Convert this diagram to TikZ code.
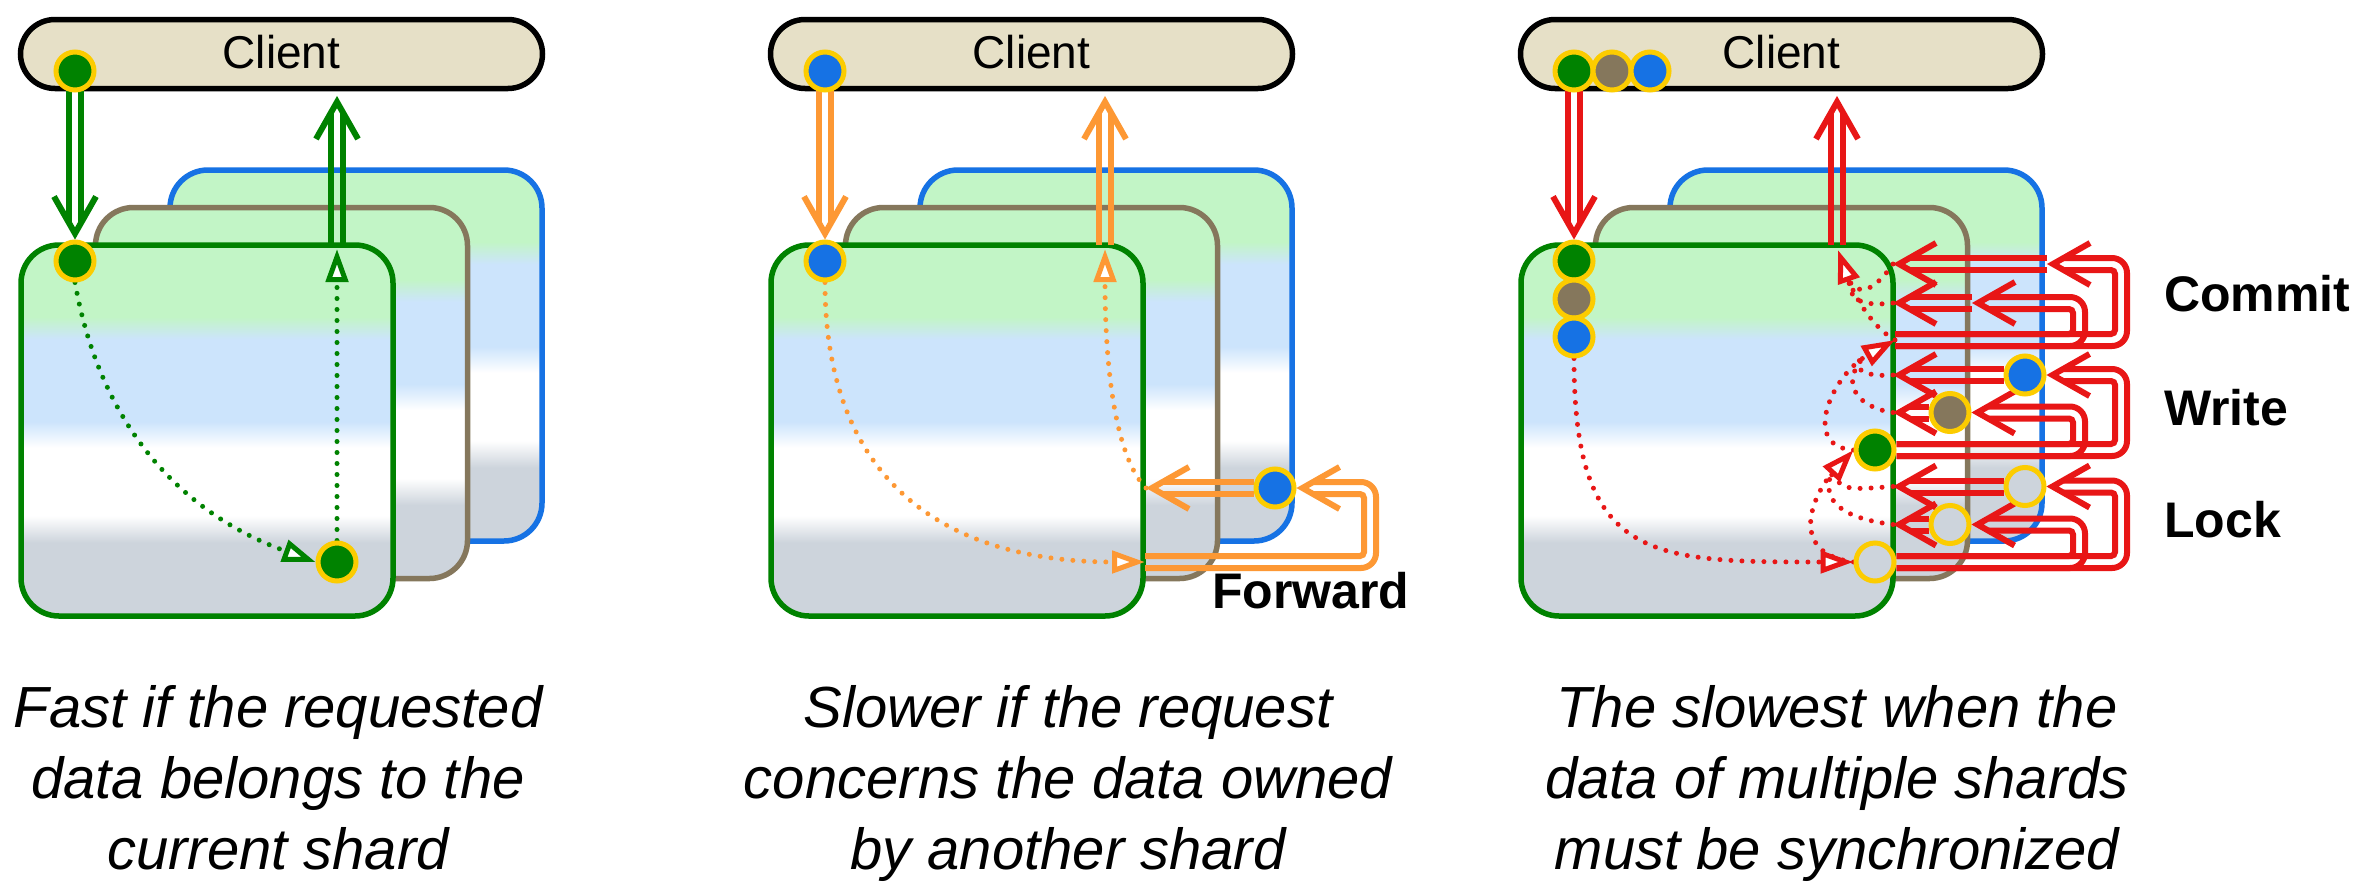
\documentclass[tikz,border=0pt]{standalone}
\usepackage{fontspec}
\setmainfont{Liberation Sans}
\usetikzlibrary{arrows.meta,calc}

\definecolor{cgreen}{RGB}{0,130,0}
\definecolor{corange}{RGB}{253,152,52}
\definecolor{cred}{RGB}{232,22,22}
\definecolor{cblue}{RGB}{22,114,228}
\definecolor{cbrown}{RGB}{133,119,92}
\definecolor{cyellow}{RGB}{252,204,0}
\definecolor{sgreen}{RGB}{194,245,198}
\definecolor{sblue}{RGB}{204,228,252}
\definecolor{sgray}{RGB}{205,212,220}
\definecolor{cbeige}{RGB}{230,224,199}

% banded fill of a shard: grey bottom, white, blue, green top
\pgfdeclareverticalshading{shardshade}{100bp}{color(0bp)=(sgray); color(34.9bp)=(sgray); color(38.5bp)=(white); color(47.7bp)=(white); color(51.2bp)=(sblue); color(62.3bp)=(sblue); color(65.3bp)=(sgreen); color(100bp)=(sgreen)}

\pgfdeclarelayer{shardlayer}
\pgfdeclarelayer{linklayer}
\pgfsetlayers{shardlayer,linklayer,main}

\tikzset{
  shard/.style={shade, shading=shardshade, line width=5.5pt, rounded corners=38pt,
    minimum width=372pt, minimum height=371pt, inner sep=0pt},
  client/.style={draw=black, fill=cbeige, line width=5.5pt, rounded corners=34.5pt,
    minimum width=522pt, minimum height=69pt, inner sep=0pt,
    font=\fontsize{46pt}{52pt}\selectfont, text height=33pt, text depth=4pt},
  ball/.style={circle, draw=cyellow, line width=5pt, minimum size=38pt, inner sep=0pt},
  dblline/.style={line width=6pt},
  dotline/.style={line width=5pt, line cap=round, dash pattern=on 0pt off 11pt},
  tri/.style={-{Triangle[length=33pt,width=22pt,fill=white]}},
  captiontext/.style={align=center, anchor=north, inner sep=0pt,
    font=\fontsize{58pt}{71pt}\selectfont\itshape},
  phaselabel/.style={anchor=base west, inner sep=0pt,
    font=\fontsize{50pt}{58pt}\selectfont\bfseries},
  chevron/.pic={\draw[line width=6pt, line join=miter, pic actions]
    (43pt,21pt) -- (6pt,0pt) -- (43pt,-21pt);},
}

% double-line arrows ending in an open chevron
\newcommand{\dblleft}[3]{%
  \draw[dblline,#1] ($(#2)+(0,-6)$) -- ($(#3)+(17,-6)$);
  \draw[dblline,#1] ($(#2)+(0,6)$) -- ($(#3)+(17,6)$);
  \pic[draw=#1] at (#3) {chevron};}
\newcommand{\dbldown}[3]{%
  \draw[dblline,#1] ($(#2)+(-6,0)$) -- ($(#3)+(-6,-17)$);
  \draw[dblline,#1] ($(#2)+(6,0)$) -- ($(#3)+(6,-17)$);
  \pic[draw=#1, rotate=90] at (#3) {chevron};}
\newcommand{\dblup}[3]{%
  \draw[dblline,#1] ($(#2)+(-6,0)$) -- ($(#3)+(-6,17)$);
  \draw[dblline,#1] ($(#2)+(6,0)$) -- ($(#3)+(6,17)$);
  \pic[draw=#1, rotate=-90] at (#3) {chevron};}
% right, up, back left: start, turning column, chevron tip
\newcommand{\dblloop}[4]{%
  \draw[dblline,#1,rounded corners=15pt] ($(#2)+(0,6)$) -- ($(#2 -| #3)+(6,6)$)
    -- ($(#4 -| #3)+(6,-6)$) -- ($(#4)+(17,-6)$);
  \draw[dblline,#1,rounded corners=4pt] ($(#2)+(0,-6)$) -- ($(#2 -| #3)+(-6,-6)$)
    -- ($(#4 -| #3)+(-6,6)$) -- ($(#4)+(17,6)$);
  \pic[draw=#1] at (#4) {chevron};}

\begin{document}
\begin{tikzpicture}[x=1pt,y=-1pt]
\begin{pgfonlayer}{shardlayer}
  \fill[white] (0,0) rectangle (2368,889);
\end{pgfonlayer}
\useasboundingbox (0,0) rectangle (2368,889);

% ---------------- local request ----------------
\begin{scope}
  \begin{pgfonlayer}{shardlayer}
    \node[shard, draw=cblue]  (aback)  at (356,355.5) {};
    \node[shard, draw=cbrown] (amid)   at (281.5,393) {};
    \node[shard, draw=cgreen] (afront) at (207,430.5) {};
    \node[client] (aclient) at (281.5,54) {Client};
  \end{pgfonlayer}
  \node[ball, fill=cgreen] (acd) at (75,71) {};
  \node[ball, fill=cgreen] (atd) at (75,261) {};
  \node[ball, fill=cgreen] (abd) at (337,562) {};
  \coordinate (aup0) at (337,245);
  \coordinate (aup1) at (337,96);
  \coordinate (aupt) at (337,249);
  \begin{pgfonlayer}{linklayer}
    \dbldown{cgreen}{acd}{atd.north}
    \dblup{cgreen}{aup0}{aup1}
    \draw[dotline, cgreen, tri] (atd.south) to[out=-80, in=160] (abd.west);
    \draw[dotline, cgreen, tri] (abd.north) -- (aupt);
  \end{pgfonlayer}
\end{scope}

% ---------------- forwarded request ----------------
\begin{scope}[xshift=750pt]
  \begin{pgfonlayer}{shardlayer}
    \node[shard, draw=cblue]  (bback)  at (356,355.5) {};
    \node[shard, draw=cbrown] (bmid)   at (281.5,393) {};
    \node[shard, draw=cgreen] (bfront) at (207,430.5) {};
    \node[client] (bclient) at (281.5,54) {Client};
  \end{pgfonlayer}
  \node[ball, fill=cblue] (bcd) at (75,71) {};
  \node[ball, fill=cblue] (btd) at (75,261) {};
  \node[ball, fill=cblue] (bbd) at (525,488) {};
  \coordinate (bfwd) at (395,562);
  \coordinate (bcol) at (620,0);
  \coordinate (bret) at (396,488);
  \coordinate (bup0) at (355,245);
  \coordinate (bup1) at (355,96);
  \coordinate (bupt) at (355,249);
  \begin{pgfonlayer}{linklayer}
    \dbldown{corange}{bcd}{btd.north}
    \dblloop{corange}{bfwd}{bcol}{bbd.east}
    \dblleft{corange}{bbd.west}{bret}
    \dblup{corange}{bup0}{bup1}
    \draw[dotline, corange, tri] (btd.south) to[out=-90, in=180, looseness=1.2] (bfwd);
    \draw[dotline, corange, tri] (bret) .. controls (368,460) and (355,380) .. (bupt);
  \end{pgfonlayer}
  \node[phaselabel] (bforward) at (462,608) {Forward};
\end{scope}

% ---------------- multi-shard transaction ----------------
\begin{scope}[xshift=1500pt]
  \begin{pgfonlayer}{shardlayer}
    \node[shard, draw=cblue]  (cback)  at (356,355.5) {};
    \node[shard, draw=cbrown] (cmid)   at (281.5,393) {};
    \node[shard, draw=cgreen] (cfront) at (207,430.5) {};
    \node[client] (cclient) at (281.5,54) {Client};
  \end{pgfonlayer}
  % data items held by the client and by the front shard
  \node[ball, fill=cgreen] (ccd1) at (74,71) {};
  \node[ball, fill=cbrown] (ccd2) at (112,71) {};
  \node[ball, fill=cblue]  (ccd3) at (150,71) {};
  \node[ball, fill=cgreen] (ctd1) at (74,261) {};
  \node[ball, fill=cbrown] (ctd2) at (74,299) {};
  \node[ball, fill=cblue]  (ctd3) at (74,337) {};
  % write phase
  \node[ball, fill=cblue]  (cwb) at (525,375) {};
  \node[ball, fill=cbrown] (cwm) at (450,412.5) {};
  \node[ball, fill=cgreen] (cwf) at (375,450) {};
  % lock phase
  \node[ball, fill=sgray] (clb) at (525,486.5) {};
  \node[ball, fill=sgray] (clm) at (450,524.5) {};
  \node[ball, fill=sgray] (clf) at (375,562) {};
  % commit phase
  \coordinate (ccf) at (395,340);
  \coordinate (ccb) at (547,264);
  \coordinate (ccm) at (472,303);
  % turning columns of the loops
  \coordinate (cxi) at (579,0);
  \coordinate (cxo) at (621,0);
  % replies arriving at the front shard
  \coordinate (crcb) at (393,264);
  \coordinate (crcm) at (393,303);
  \coordinate (crwb) at (393,375);
  \coordinate (crwm) at (393,412.5);
  \coordinate (crlb) at (393,486.5);
  \coordinate (crlm) at (393,524.5);
  % merge points of the dotted flows
  \coordinate (ctw) at (331,474);
  \coordinate (ctc) at (364,357);
  \coordinate (ctf) at (349,280);
  \coordinate (cfin) at (338,250);
  \coordinate (cup0) at (337,245);
  \coordinate (cup1) at (337,96);
  \begin{pgfonlayer}{linklayer}
    \dbldown{cred}{ccd1}{ctd1.north}
    \dblup{cred}{cup0}{cup1}
    \dblloop{cred}{ccf}{cxo}{ccb}
    \dblloop{cred}{ccf}{cxi}{ccm}
    \dblloop{cred}{cwf.east}{cxo}{cwb.east}
    \dblloop{cred}{cwf.east}{cxi}{cwm.east}
    \dblloop{cred}{clf.east}{cxo}{clb.east}
    \dblloop{cred}{clf.east}{cxi}{clm.east}
    \dblleft{cred}{ccb}{crcb}
    \dblleft{cred}{ccm}{crcm}
    \dblleft{cred}{cwb.west}{crwb}
    \dblleft{cred}{cwm.west}{crwm}
    \dblleft{cred}{clb.west}{crlb}
    \dblleft{cred}{clm.west}{crlm}
    \draw[dotline, cred, tri] (ctd3.south) to[out=-90, in=180, looseness=1.5] (clf.west);
    \draw[dotline, cred, tri] (clf.west) .. controls (285,553) and (315,492) .. (cwf.west);
    \draw[dotline, cred] (crlb) .. controls (345,490) .. (ctw);
    \draw[dotline, cred] (crlm) .. controls (340,518) and (322,500) .. (ctw);
    \draw[dotline, cred, tri] (cwf.west) .. controls (300,447) and (332,375) .. (ccf);
    \draw[dotline, cred] (crwb) .. controls (355,378) and (352,362) .. (ctc);
    \draw[dotline, cred] (crwm) .. controls (360,408) and (338,385) .. (ctc);
    \draw[dotline, cred, tri] (ccf) .. controls (368,325) and (351,287) .. (cfin);
    \draw[dotline, cred] (crcb) .. controls (375,290) and (358,298) .. (ctf);
    \draw[dotline, cred] (crcm) .. controls (358,307) and (349,298) .. (ctf);
  \end{pgfonlayer}
  \node[phaselabel] (ccommit) at (664,311) {Commit};
  \node[phaselabel] (cwrite)  at (664,425) {Write};
  \node[phaselabel] (clock)   at (664,537) {Lock};
\end{scope}

% captions
\node[captiontext] (acap) at (278,685) {Fast if the requested\\data belongs to the\\current shard};
\node[captiontext] (bcap) at (1068,685) {Slower if the request\\concerns the data owned\\by another shard};
\node[captiontext] (ccap) at (1837,685) {The slowest when the\\data of multiple shards\\must be synchronized};
\end{tikzpicture}
\end{document}
